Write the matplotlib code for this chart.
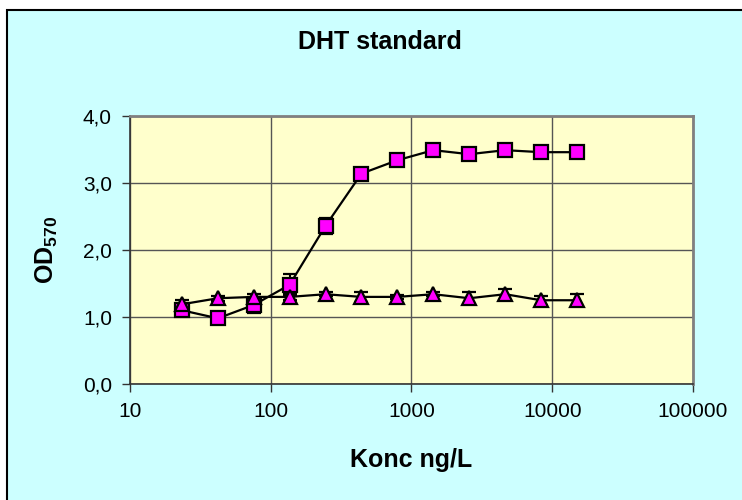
import matplotlib
matplotlib.use('Agg')
import matplotlib.pyplot as plt
from matplotlib.patches import Rectangle
from matplotlib.ticker import FixedLocator, NullLocator

plt.rcParams['font.family'] = ['Liberation Sans', 'DejaVu Sans']
plt.rcParams['mathtext.fontset'] = 'custom'
plt.rcParams['mathtext.rm'] = 'Liberation Sans:bold'
plt.rcParams['mathtext.bf'] = 'Liberation Sans:bold'
plt.rcParams['mathtext.default'] = 'bf'

# Data
konc = [23.4, 42.1, 75.8, 136, 245, 441, 794, 1429, 2572, 4630, 8333, 15000]
od_square = [1.10, 0.98, 1.18, 1.48, 2.36, 3.14, 3.34, 3.49, 3.43, 3.49, 3.46, 3.46]
err_square = [0.05, 0.03, 0.12, 0.16, 0.12, 0.05, 0.04, 0.03, 0.05, 0.04, 0.04, 0.04]
od_triangle = [1.19, 1.28, 1.30, 1.30, 1.34, 1.30, 1.30, 1.34, 1.28, 1.34, 1.25, 1.25]
err_triangle = [0.06, 0.04, 0.05, 0.04, 0.03, 0.08, 0.03, 0.03, 0.09, 0.08, 0.07, 0.09]

x_ticks = [10, 100, 1000, 10000, 100000]
x_labels = ['10', '100', '1000', '10000', '100000']
y_ticks = [0, 1, 2, 3, 4]
y_labels = ['0,0', '1,0', '2,0', '3,0', '4,0']

W, H = 742, 500
fig = plt.figure(figsize=(W / 100, H / 100), dpi=100)
fig.patch.set_facecolor('white')

# cyan chart area with black frame (right/bottom edges run off the image)
frame = Rectangle((7 / W, -0.05), 1.2, 1 - 10 / H + 0.05, transform=fig.transFigure,
                  facecolor='#CCFFFF', edgecolor='black', linewidth=1.5, zorder=-10)
fig.add_artist(frame)

ax = fig.add_axes([130 / W, (H - 384) / H, 563 / W, 268 / H])
ax.set_facecolor('#FFFFCC')
ax.set_xscale('log')
ax.set_xlim(10, 100000)
ax.set_ylim(0, 4)

ax.xaxis.set_major_locator(FixedLocator(x_ticks))
ax.xaxis.set_minor_locator(NullLocator())
ax.set_xticklabels(x_labels)
ax.set_yticks(y_ticks)
ax.set_yticklabels(y_labels)
ax.tick_params(axis='both', direction='out', length=6, width=1, color='#333333',
               labelsize=15, pad=7)

ax.grid(True, color='#555555', linewidth=1)
ax.set_axisbelow(True)

for side in ['top', 'right']:
    ax.spines[side].set_color('#808080')
    ax.spines[side].set_linewidth(2)
for side in ['left', 'bottom']:
    ax.spines[side].set_color('#333333')
    ax.spines[side].set_linewidth(1.2)

ax.errorbar(konc, od_square, yerr=err_square, color='black', linewidth=1.6,
            marker='s', markersize=9.5, markerfacecolor='#FF00FF', markeredgecolor='black',
            markeredgewidth=1.6, capsize=5, elinewidth=1.5, capthick=1.5, zorder=3)
ax.errorbar(konc, od_triangle, yerr=err_triangle, color='black', linewidth=1.6,
            marker='^', markersize=10.5, markerfacecolor='#FF00FF', markeredgecolor='black',
            markeredgewidth=1.6, capsize=5, elinewidth=1.5, capthick=1.5, zorder=3)

fig.text(380 / W, 1 - 42 / H, 'DHT standard', ha='center', va='center',
         fontsize=18, fontweight='bold')
fig.text(411 / W, 1 - 460 / H, 'Konc ng/L', ha='center', va='center',
         fontsize=18, fontweight='bold')
fig.text(47 / W, 1 - 250 / H, r'$OD_{570}$', ha='center', va='center',
         fontsize=18, rotation=90)

fig.savefig('out.png', dpi=100, facecolor=fig.get_facecolor())
